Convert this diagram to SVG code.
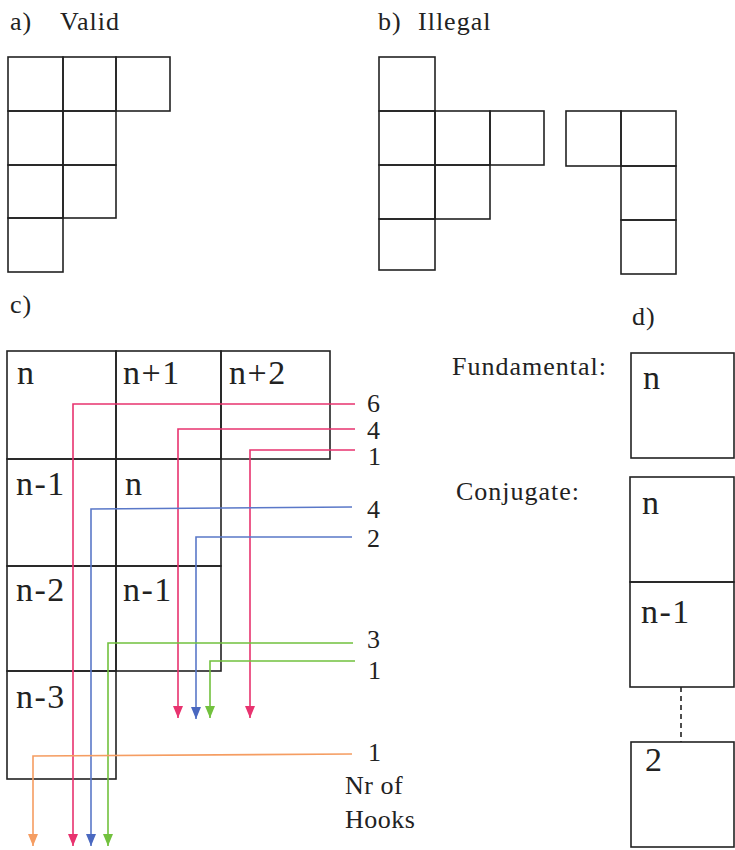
<svg xmlns="http://www.w3.org/2000/svg" width="735" height="850" viewBox="0 0 735 850">
<style>
.c{fill:none;stroke:#222;stroke-width:1.6}
.t{font-family:"Liberation Serif",serif;fill:#222}
.h{font-size:26px;letter-spacing:1px}
.l{font-size:34px;letter-spacing:1.5px}
.n{font-size:26px}
.p{fill:none;stroke:#e8336f;stroke-width:1.6}
.b{fill:none;stroke:#5a78c8;stroke-width:1.6}
.g{fill:none;stroke:#72c13e;stroke-width:1.6}
.o{fill:none;stroke:#f59d62;stroke-width:1.6}
</style>
<defs>
<marker id="ap" markerWidth="10" markerHeight="12" refX="5" refY="12" markerUnits="userSpaceOnUse" viewBox="0 0 10 12"><path d="M0,0 L10,0 L5,12 Z" fill="#e8336f"/></marker>
<marker id="ab" markerWidth="10" markerHeight="12" refX="5" refY="12" markerUnits="userSpaceOnUse" viewBox="0 0 10 12"><path d="M0,0 L10,0 L5,12 Z" fill="#4a68c0"/></marker>
<marker id="ag" markerWidth="10" markerHeight="12" refX="5" refY="12" markerUnits="userSpaceOnUse" viewBox="0 0 10 12"><path d="M0,0 L10,0 L5,12 Z" fill="#72c13e"/></marker>
<marker id="ao" markerWidth="10" markerHeight="12" refX="5" refY="12" markerUnits="userSpaceOnUse" viewBox="0 0 10 12"><path d="M0,0 L10,0 L5,12 Z" fill="#f59d62"/></marker>
</defs>
<rect width="735" height="850" fill="#fff"/>

<!-- a) Valid -->
<g id="labelA">
<text class="t h" x="10" y="30">a)</text>
<text class="t h" x="60" y="30">Valid</text>
</g>
<g id="gridA">
<rect class="c" x="8" y="57" width="55" height="54"/>
<rect class="c" x="63" y="57" width="53" height="54"/>
<rect class="c" x="116" y="57" width="54" height="54"/>
<rect class="c" x="8" y="111" width="55" height="54"/>
<rect class="c" x="63" y="111" width="53" height="54"/>
<rect class="c" x="8" y="165" width="55" height="53"/>
<rect class="c" x="63" y="165" width="53" height="53"/>
<rect class="c" x="8" y="218" width="55" height="54"/>
</g>

<!-- b) Illegal -->
<g id="labelB">
<text class="t h" x="378" y="30">b)</text>
<text class="t h" x="418" y="30">Illegal</text>
</g>
<g id="gridB1">
<rect class="c" x="379" y="57" width="56" height="54"/>
<rect class="c" x="379" y="111" width="56" height="54"/>
<rect class="c" x="435" y="111" width="55" height="54"/>
<rect class="c" x="490" y="111" width="54" height="54"/>
<rect class="c" x="379" y="165" width="56" height="54"/>
<rect class="c" x="435" y="165" width="55" height="54"/>
<rect class="c" x="379" y="219" width="56" height="51"/>
</g>
<g id="gridB2">
<rect class="c" x="566" y="111" width="55" height="55"/>
<rect class="c" x="621" y="111" width="55" height="55"/>
<rect class="c" x="621" y="166" width="55" height="54"/>
<rect class="c" x="621" y="220" width="55" height="54"/>
</g>

<!-- c) -->
<text class="t h" x="10" y="313">c)</text>
<g id="gridC">
<g id="c11"><rect class="c" x="7" y="351" width="109" height="108"/><text class="t l" x="17" y="384">n</text></g>
<g id="c12"><rect class="c" x="116" y="351" width="105" height="108"/><text class="t l" x="123" y="384">n+1</text></g>
<g id="c13"><rect class="c" x="221" y="351" width="109" height="108"/><text class="t l" x="229" y="384">n+2</text></g>
<g id="c21"><rect class="c" x="7" y="459" width="109" height="107"/><text class="t l" x="16" y="495">n-1</text></g>
<g id="c22"><rect class="c" x="116" y="459" width="105" height="107"/><text class="t l" x="125" y="495">n</text></g>
<g id="c31"><rect class="c" x="7" y="566" width="109" height="105"/><text class="t l" x="16" y="601">n-2</text></g>
<g id="c32"><rect class="c" x="116" y="566" width="105" height="105"/><text class="t l" x="123" y="601">n-1</text></g>
<g id="c41"><rect class="c" x="7" y="671" width="109" height="108"/><text class="t l" x="16" y="708">n-3</text></g>
</g>

<g id="hooks">
<path class="p" d="M355,404 H73 V846" marker-end="url(#ap)"/>
<path class="p" d="M355,429 H178 V718" marker-end="url(#ap)"/>
<path class="p" d="M355,450 H250 V718" marker-end="url(#ap)"/>
<path class="b" d="M352,507 L91,509 V846" marker-end="url(#ab)"/>
<path class="b" d="M352,537 H196 V719" marker-end="url(#ab)"/>
<path class="g" d="M353,643 H108 V846" marker-end="url(#ag)"/>
<path class="g" d="M355,661 H210 V718" marker-end="url(#ag)"/>
<path class="o" d="M352,754 L33,756 V846" marker-end="url(#ao)"/>
</g>
<g id="hookLabels">
<text class="t n" x="367" y="412">6</text>
<text class="t n" x="367" y="439">4</text>
<text class="t n" x="368" y="465">1</text>
<text class="t n" x="367" y="518">4</text>
<text class="t n" x="367" y="547">2</text>
<text class="t n" x="367" y="648">3</text>
<text class="t n" x="368" y="679">1</text>
<text class="t n" x="368" y="761">1</text>
<text class="t n" x="345" y="794" style="letter-spacing:0.5px">Nr of</text>
<text class="t n" x="345" y="828" style="letter-spacing:0.5px">Hooks</text>
</g>

<!-- d) -->
<text class="t h" x="632" y="325">d)</text>
<text class="t h" x="452" y="375" style="letter-spacing:1px">Fundamental:</text>
<text class="t h" x="456" y="500" style="letter-spacing:1px">Conjugate:</text>
<g id="fund"><rect class="c" x="631" y="353" width="103" height="105"/><text class="t l" x="643" y="389">n</text></g>
<g id="conjN"><rect class="c" x="630" y="477" width="104" height="105"/><text class="t l" x="642" y="514">n</text></g>
<g id="conjN1"><rect class="c" x="630" y="582" width="104" height="105"/><text class="t l" x="641" y="623">n-1</text></g>
<g id="conj2"><rect class="c" x="631" y="742" width="103" height="105"/><text class="t l" x="645" y="771">2</text></g>
<g id="dots"><line x1="681" y1="687" x2="681" y2="742" stroke="#222" stroke-width="1.6" stroke-dasharray="5,4"/></g>
</svg>
